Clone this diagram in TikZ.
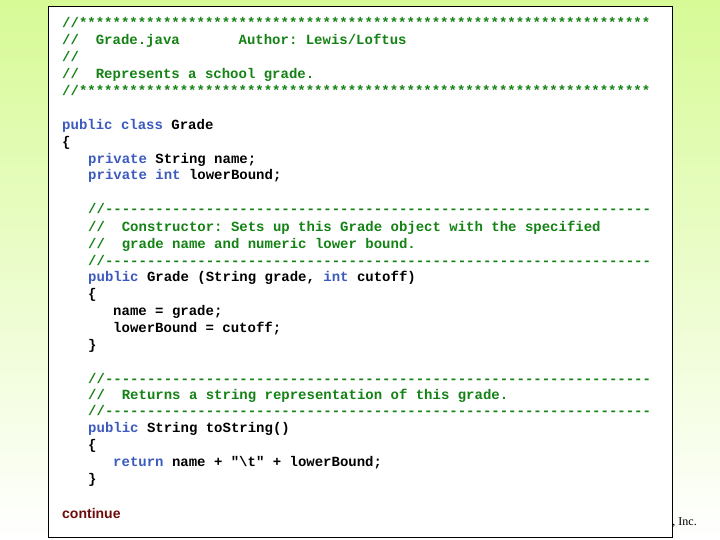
\documentclass[tikz,border=0pt]{standalone}
\usepackage{fontspec}
\newfontfamily\code{Liberation Mono}
\newfontfamily\serifx{Liberation Serif}
\newfontfamily\sansx{Liberation Sans}
\definecolor{cmt}{RGB}{20,130,20}
\definecolor{kw}{RGB}{60,90,190}
\definecolor{cont}{RGB}{110,10,10}
\definecolor{bgtop}{RGB}{215,250,150}
\newcommand{\kw}[1]{\textcolor{kw}{#1}}
\tikzset{codeline/.style={anchor=base west,inner sep=0pt,font=\code\bfseries\fontsize{14}{14}\selectfont},
cmtline/.style={codeline,text=cmt}}
\begin{document}
\begin{tikzpicture}[x=1pt,y=-1pt]
\useasboundingbox (0,0) rectangle (720,540);
\shade[top color=bgtop,bottom color=white] (0,0) rectangle (720,540);
\node[anchor=base east,inner sep=0pt,font=\serifx\fontsize{12}{12}\selectfont] (inc) at (697,525) {Education, Inc.};
\draw[fill=white,line width=1pt] (48,7) rectangle (672,537);
\node[cmtline] (l1) at (62,28) {//\foreach\i in{1,...,68}{*}};
\node[cmtline] (l2) at (62,45) {//~~Grade.java~~~~~~~Author:~Lewis/Loftus};
\node[cmtline] (l3) at (62,62) {//};
\node[cmtline] (l4) at (62,79) {//~~Represents~a~school~grade.};
\node[cmtline] (l5) at (62,96) {//\foreach\i in{1,...,68}{*}};
\node[codeline] (l6) at (62,130) {\kw{public class} Grade};
\node[codeline] (l7) at (62,147) {\{};
\node[codeline] (l8) at (88,164) {\kw{private} String name;};
\node[codeline] (l9) at (88,180) {\kw{private int} lowerBound;};
\node[cmtline] (l10) at (88,214) {//\foreach\i in{1,...,65}{-}};
\node[cmtline] (l11) at (88,231) {//~~Constructor:~Sets~up~this~Grade~object~with~the~specified};
\node[cmtline] (l12) at (88,248) {//~~grade~name~and~numeric~lower~bound.};
\node[cmtline] (l13) at (88,265) {//\foreach\i in{1,...,65}{-}};
\node[codeline] (l14) at (88,281) {\kw{public} Grade (String grade, \kw{int} cutoff)};
\node[codeline] (l15) at (88,298) {\{};
\node[codeline] (l16) at (113,315) {name = grade;};
\node[codeline] (l17) at (113,332) {lowerBound = cutoff;};
\node[codeline] (l18) at (88,349) {\}};
\node[cmtline] (l19) at (88,383) {//\foreach\i in{1,...,65}{-}};
\node[cmtline] (l20) at (88,399) {//~~Returns~a~string~representation~of~this~grade.};
\node[cmtline] (l21) at (88,415) {//\foreach\i in{1,...,65}{-}};
\node[codeline] (l22) at (88,432) {\kw{public} String toString()};
\node[codeline] (l23) at (88,449) {\{};
\node[codeline] (l24) at (113,466) {\kw{return} name + "\textbackslash t" + lowerBound;};
\node[codeline] (l25) at (88,483) {\}};
\node[anchor=base west,inner sep=0pt,text=cont,font=\sansx\bfseries\fontsize{14}{14}\selectfont] (cnt) at (62,518) {continue};
\end{tikzpicture}
\end{document}
